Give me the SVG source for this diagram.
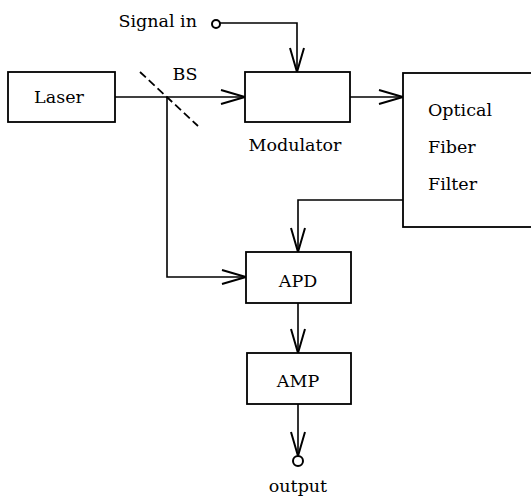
<svg xmlns="http://www.w3.org/2000/svg" width="531" height="498" viewBox="0 0 531 498">
<defs>
<style>
.box{fill:#fff;stroke:#000;stroke-width:1.8}
.ln{fill:none;stroke:#000;stroke-width:1.6}
.t{font-family:"DejaVu Serif","Liberation Serif",serif;font-size:17.5px;fill:#000}
.term{fill:#fff;stroke:#000;stroke-width:2}
</style>
<marker id="arr" viewBox="0 0 26 16" refX="25" refY="8" markerWidth="26" markerHeight="16" markerUnits="userSpaceOnUse" orient="auto">
<path d="M1,1 L25,8 L1,15" fill="none" stroke="#000" stroke-width="2"/>
</marker>
</defs>
<rect width="531" height="498" fill="#fff"/>
<g id="connectors">
<path class="ln" d="M115,97 H245" marker-end="url(#arr)"/>
<path class="ln" d="M220,23 H297 V72" marker-end="url(#arr)"/>
<path class="ln" d="M350,97 H403" marker-end="url(#arr)"/>
<path class="ln" d="M167,97 V277 H246" marker-end="url(#arr)"/>
<path class="ln" d="M403,200 H298 V252" marker-end="url(#arr)"/>
<path class="ln" d="M298,303 V353" marker-end="url(#arr)"/>
<path class="ln" d="M298,404 V456" marker-end="url(#arr)"/>
</g>
<g id="signal-in">
<circle class="term" cx="216" cy="24" r="4"/>
<text class="t" x="197" y="27" text-anchor="end">Signal in</text>
</g>
<g id="laser">
<rect class="box" x="8" y="72" width="107" height="50"/>
<text class="t" x="59" y="103" text-anchor="middle">Laser</text>
</g>
<g id="bs">
<line x1="140" y1="72" x2="198" y2="126" stroke="#000" stroke-width="1.8" stroke-dasharray="8,4"/>
<text class="t" x="185" y="80" text-anchor="middle">BS</text>
</g>
<g id="modulator">
<rect class="box" x="245" y="72" width="105" height="50"/>
<text class="t" x="295" y="151" text-anchor="middle">Modulator</text>
</g>
<g id="filter">
<rect class="box" x="403" y="73" width="130" height="154"/>
<text class="t" x="428" y="116">Optical</text>
<text class="t" x="428" y="153">Fiber</text>
<text class="t" x="428" y="190">Filter</text>
</g>
<g id="apd">
<rect class="box" x="246" y="252" width="105" height="51"/>
<text class="t" x="298" y="287" text-anchor="middle">APD</text>
</g>
<g id="amp">
<rect class="box" x="247" y="353" width="104" height="51"/>
<text class="t" x="298" y="387" text-anchor="middle">AMP</text>
</g>
<g id="output">
<circle class="term" cx="298" cy="461" r="5"/>
<text class="t" x="298" y="492" text-anchor="middle">output</text>
</g>
</svg>
